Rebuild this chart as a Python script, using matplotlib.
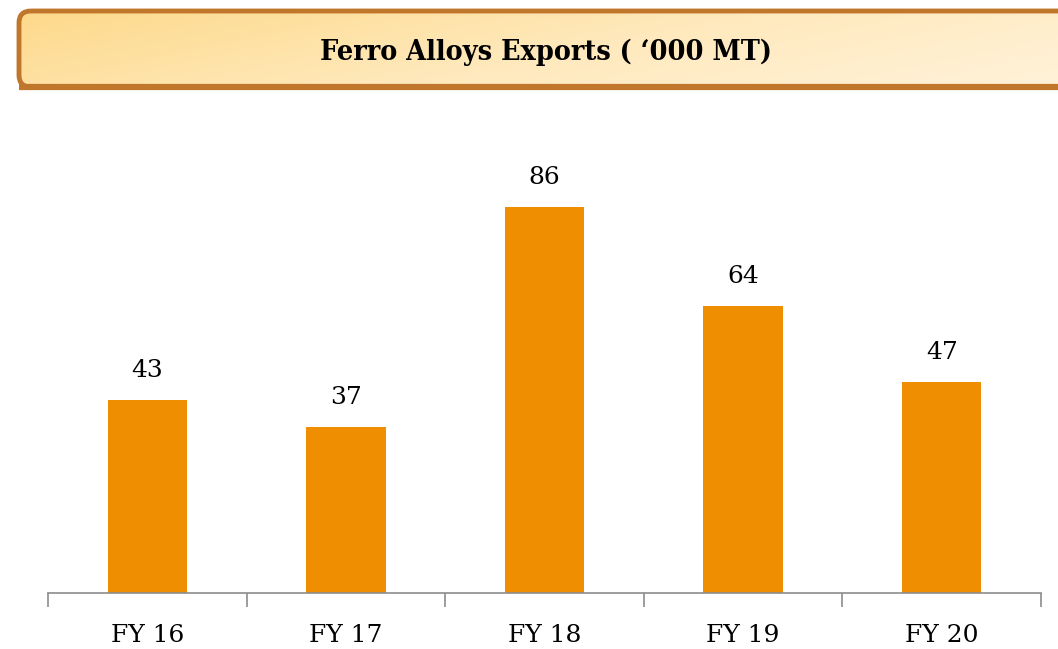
import numpy as np
import matplotlib
matplotlib.use('Agg')
import matplotlib.pyplot as plt
from matplotlib.patches import FancyBboxPatch
from matplotlib.colors import LinearSegmentedColormap

categories = ["FY 16", "FY 17", "FY 18", "FY 19", "FY 20"]
exports = [43, 37, 86, 64, 47]
title = "Ferro Alloys Exports ( \u2018000 MT)"

bar_color = "#EE8E00"
border_color = "#C0762B"

fig = plt.figure(figsize=(10.58, 6.49), dpi=100)

# title banner with gradient fill
bax = fig.add_axes([0, 0, 1, 1], zorder=0)
bax.set_xlim(0, 1058)
bax.set_ylim(649, 0)
bax.axis("off")
banner = FancyBboxPatch((19, 11), 1100, 76,
                        boxstyle="round,pad=0,rounding_size=12",
                        facecolor="none", edgecolor=border_color, linewidth=3.5)
bax.add_patch(banner)
# heavier bottom edge of the banner
bax.plot([19, 1058], [87, 87], color=border_color, linewidth=4.5,
         solid_capstyle="butt")
cmap = LinearSegmentedColormap.from_list("banner", ["#FDD98A", "#FFE9BC", "#FFF3DC"])
xx, yy = np.meshgrid(np.linspace(0, 1, 300), np.linspace(0, 1, 60))
grad = 0.75 * xx + 0.25 * yy
img = bax.imshow(grad, cmap=cmap, extent=(19, 1119, 87, 11), aspect="auto", zorder=0)
img.set_clip_path(banner)
bax.text(546, 52, title, ha="center", va="center", fontsize=20.5,
         fontweight="bold", family="DejaVu Serif", stretch="condensed")

# bar chart
ax = fig.add_axes([48 / 1058, 56 / 649, 993 / 1058, 483 / 649], zorder=1)
ax.patch.set_alpha(0)
x = np.arange(len(categories))
bars = ax.bar(x, exports, width=0.4, color=bar_color)
for xi, v in zip(x, exports):
    ax.text(xi, v + 4, str(v), ha="center", va="bottom", fontsize=18,
            family="DejaVu Serif")
ax.set_xlim(-0.5, len(categories) - 0.5)
ax.set_ylim(0, 107.6)
for s in ["top", "right", "left"]:
    ax.spines[s].set_visible(False)
ax.spines["bottom"].set_color("#8C8C8C")
ax.spines["bottom"].set_linewidth(1.2)
ax.set_yticks([])
ax.set_xticks(np.arange(-0.5, len(categories), 1.0), minor=False)
ax.set_xticklabels([])
ax.tick_params(axis="x", which="major", length=10, width=1.2, color="#8C8C8C")
ax.set_xticks(x, minor=True)
ax.set_xticklabels(categories, minor=True, fontsize=18, family="DejaVu Serif")
ax.tick_params(axis="x", which="minor", length=0, pad=22)

fig.savefig("out.png", dpi=100)
